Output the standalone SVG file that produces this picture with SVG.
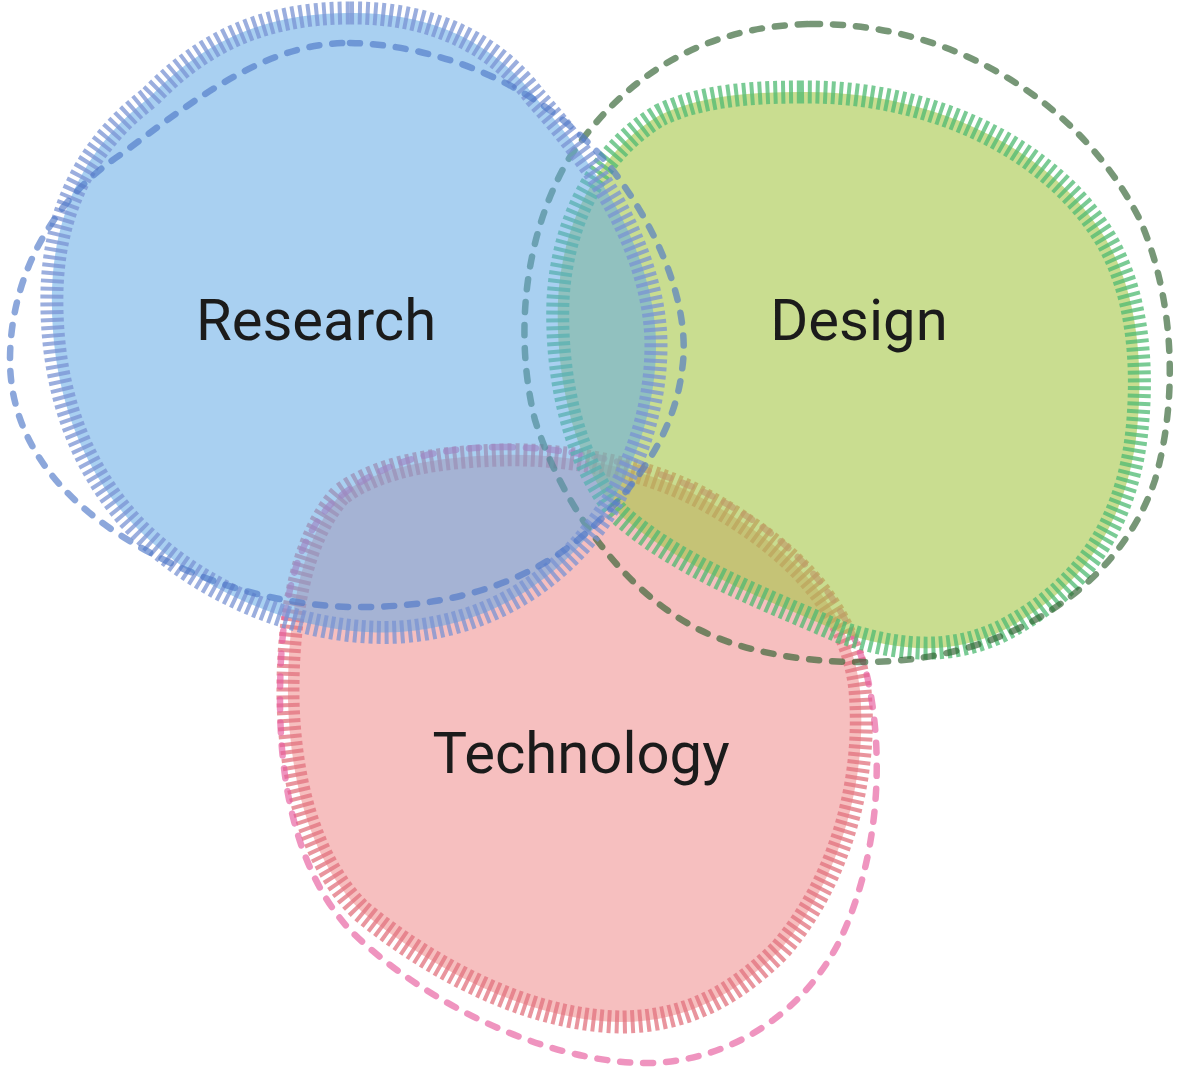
<svg xmlns="http://www.w3.org/2000/svg" width="1178" height="1067" viewBox="0 0 1178 1067">
<style>
.ticks{fill:none;stroke-width:23;stroke-dasharray:4 3.8;stroke-linecap:butt;stroke-opacity:0.75}
.dash{fill:none;stroke-width:6.5;stroke-dasharray:10 13;stroke-linecap:round;stroke-opacity:0.65}
.label{font-family:Roboto,"Liberation Sans",sans-serif;font-size:58px;fill:#1b1b1b;text-anchor:middle}
</style>
<rect width="1178" height="1067" fill="#ffffff"/>
<g id="technology">
<path d="M 500,455 C 560,453 640,465 700,497 C 780,540 850,600 860,690 C 868,780 840,880 780,950 C 730,1000 680,1022 620,1022 C 520,1020 420,960 360,910 C 310,860 290,780 288,700 C 287,620 300,540 340,495 C 380,465 440,457 500,455 Z" fill="#f6bfbf"/>
<path class="ticks" stroke="#e2717e" d="M 500,455 C 560,453 640,465 700,497 C 780,540 850,600 860,690 C 868,780 840,880 780,950 C 730,1000 680,1022 620,1022 C 520,1020 420,960 360,910 C 310,860 290,780 288,700 C 287,620 300,540 340,495 C 380,465 440,457 500,455 Z"/>
<path class="dash" stroke="#e65a9c" d="M 503,447 C 570,447 650,465 710,495 C 790,535 850,600 868,680 C 885,760 878,860 840,940 C 800,1020 720,1065 640,1063 C 540,1060 420,1000 350,930 C 295,870 280,780 280,700 C 280,620 290,550 330,505 C 380,460 440,447 503,447 Z"/>
<text class="label" x="581" y="773">Technology</text>
</g>
<g id="design">
<path d="M 800,92 C 920,90 1040,140 1100,230 C 1137,285 1144,360 1137,430 C 1127,525 1080,592 1000,632 C 950,655 900,652 840,632 C 760,597 680,567 620,515 C 575,465 555,380 558,300 C 562,220 600,150 660,115 C 700,96 750,92 800,92 Z" fill="#a5c646" fill-opacity="0.6"/>
<path class="ticks" stroke="#4dba72" d="M 800,92 C 920,90 1040,140 1100,230 C 1137,285 1144,360 1137,430 C 1127,525 1080,592 1000,632 C 950,655 900,652 840,632 C 760,597 680,567 620,515 C 575,465 555,380 558,300 C 562,220 600,150 660,115 C 700,96 750,92 800,92 Z"/>
<path class="dash" stroke="#2e5f2e" d="M 810,24 C 950,22 1080,100 1140,220 C 1175,300 1178,400 1155,480 C 1125,570 1040,640 920,658 C 850,668 760,660 700,630 C 620,590 560,500 535,420 C 515,340 522,240 568,160 C 620,80 700,26 810,24 Z"/>
<text class="label" x="859" y="340">Design</text>
</g>
<g id="research">
<path d="M 350,13 C 440,12 500,50 535,97 C 565,130 595,170 615,205 C 640,250 656,300 656,345 C 656,400 640,455 610,505 C 570,570 500,625 400,632 C 290,638 180,580 125,515 C 70,450 50,370 52,290 C 54,220 80,150 150,97 C 200,45 260,13 350,13 Z" fill="#63aae6" fill-opacity="0.55"/>
<path class="ticks" stroke="#7a93d3" d="M 350,13 C 440,12 500,50 535,97 C 565,130 595,170 615,205 C 640,250 656,300 656,345 C 656,400 640,455 610,505 C 570,570 500,625 400,632 C 290,638 180,580 125,515 C 70,450 50,370 52,290 C 54,220 80,150 150,97 C 200,45 260,13 350,13 Z"/>
<path class="dash" stroke="#4f78c8" d="M 350,43 C 450,45 560,95 620,180 C 670,250 690,320 682,370 C 675,430 640,480 600,520 C 540,580 460,605 370,607 C 280,609 190,580 120,535 C 50,490 10,430 10,360 C 10,280 50,200 123,153 C 200,95 270,42 350,43 Z"/>
<text class="label" x="316" y="340">Research</text>
</g>
<g id="connectors"/>
</svg>
